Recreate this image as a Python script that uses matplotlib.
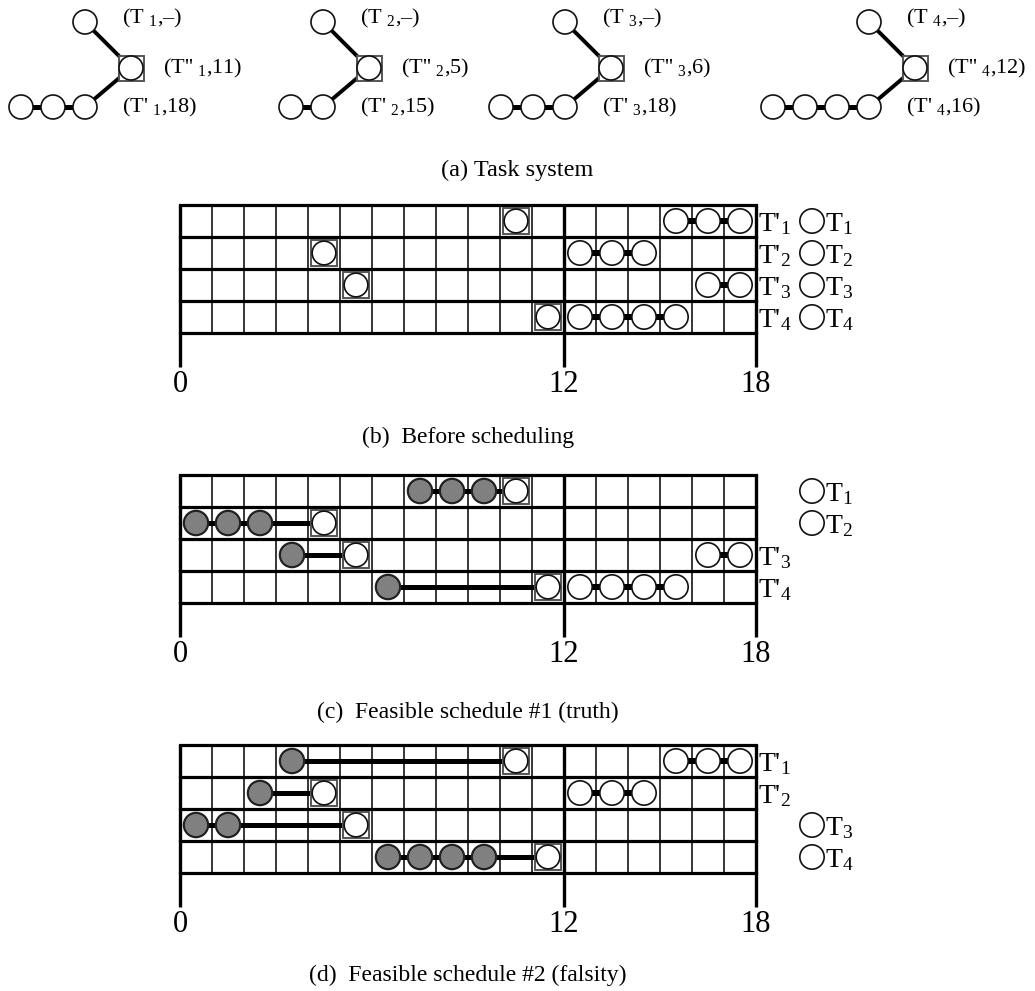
import numpy as np
import matplotlib.pyplot as plt
from matplotlib.patches import Circle, Rectangle

plt.rcParams['font.family'] = ['Liberation Serif', 'DejaVu Serif']
plt.rcParams['mathtext.fontset'] = 'custom'
plt.rcParams['mathtext.rm'] = 'Liberation Serif'
plt.rcParams['mathtext.it'] = 'Liberation Serif'
plt.rcParams['mathtext.bf'] = 'Liberation Serif'
plt.rcParams['mathtext.default'] = 'regular'

# task system (a): length of each T' chain and the two deadlines
task_ids = [1, 2, 3, 4]
chain_len = [3, 2, 3, 4]
deadline_mid = [11, 5, 6, 12]     # T''
deadline_tail = [18, 15, 18, 16]  # T'

# time axis
n_slots = 18
time_ticks = [0, 12, 18]

# (b) before scheduling: slot of the T'' box and slots of the T' chain per row
b_box = [10, 4, 5, 11]
b_gray = [[], [], [], []]
b_tail = [[15, 16, 17], [12, 13, 14], [16, 17], [12, 13, 14, 15]]
b_show_tail_label = [True, True, True, True]
b_show_task_label = [True, True, True, True]

# (c) feasible schedule #1 (truth)
c_box = [10, 4, 5, 11]
c_gray = [[7, 8, 9], [0, 1, 2], [3], [6]]
c_tail = [[], [], [16, 17], [12, 13, 14, 15]]
c_show_tail_label = [False, False, True, True]
c_show_task_label = [True, True, False, False]

# (d) feasible schedule #2 (falsity)
d_box = [10, 4, 5, 11]
d_gray = [[3], [2], [0, 1], [6, 7, 8, 9]]
d_tail = [[15, 16, 17], [12, 13, 14], [], []]
d_show_tail_label = [True, True, False, False]
d_show_task_label = [False, False, True, True]

captions = ['(a) Task system', '(b)  Before scheduling',
            '(c)  Feasible schedule #1 (truth)', '(d)  Feasible schedule #2 (falsity)']

W, H = 1035, 991
CELL = 32
GX = 180
fig = plt.figure(figsize=(W / 100, H / 100), dpi=100)

EDGE = '#111111'
BOXEDGE = '#555555'
GRAY = '#808080'


def node(ax, x, y, r, box=None, fill='white', lw=1.2):
    if box is not None:
        ax.add_patch(Rectangle((x - box / 2, y - box / 2), box, box, fc='white',
                               ec=BOXEDGE, lw=1.4, zorder=4, clip_on=False))
    ax.add_patch(Circle((x, y), r, fc=fill, ec=EDGE if fill == 'white' else '#222222',
                        lw=lw, zorder=5, clip_on=False))


def link(ax, x0, x1, y, h):
    # small black bridge between two neighbouring nodes
    ax.add_patch(Rectangle((x0, y - h / 2), x1 - x0, h, fc='black', ec='none',
                           zorder=3, clip_on=False))


# ---------------- (a) task system ----------------
axa = fig.add_axes([0, 1 - 190 / H, 1, 190 / H])
axa.set_xlim(0, W)
axa.set_ylim(190, 0)
axa.axis('off')

box_x = [131, 369, 611, 915]
top_y, mid_y, bot_y = 22, 68, 107
R = 12
for i, tid in enumerate(task_ids):
    sx = box_x[i]
    tx = sx - 46
    axa.plot([tx, sx], [top_y, mid_y], color='black', lw=2.8, zorder=2)
    axa.plot([sx, tx], [mid_y, bot_y], color='black', lw=2.8, zorder=2)
    node(axa, tx, top_y, R)
    node(axa, sx, mid_y, R, box=25)
    xs = [tx - k * CELL for k in range(chain_len[i])][::-1]
    for x in xs:
        node(axa, x, bot_y, R)
    for a, b in zip(xs[:-1], xs[1:]):
        link(axa, a + R - 1, b - R + 1, bot_y, 5)
    axa.text(sx - 9, top_y - 4, "(T $_{%d}$,–)" % tid, fontsize=16,
             ha='left', va='center')
    axa.text(sx + 32, mid_y, "(T'' $_{%d}$,%d)" % (tid, deadline_mid[i]),
             fontsize=16, ha='left', va='center')
    axa.text(sx - 9, bot_y, "(T' $_{%d}$,%d)" % (tid, deadline_tail[i]),
             fontsize=16, ha='left', va='center')
axa.text(W / 2, 170, captions[0], fontsize=17.5, ha='center', va='center')


# ---------------- schedule grids ----------------
def schedule(top, boxes, grays, tails, show_tail, show_task, caption, cap_y):
    n_rows = len(boxes)
    ax = fig.add_axes([GX / W, 1 - (top + n_rows * CELL) / H,
                       n_slots * CELL / W, n_rows * CELL / H])
    ax.set_xlim(0, n_slots)
    ax.set_ylim(n_rows, 0)
    ax.axis('off')

    tick_len = 34 / CELL
    for t in range(n_slots + 1):
        if t in time_ticks:
            ax.plot([t, t], [0, n_rows + tick_len], color='black', lw=2.4,
                    clip_on=False, zorder=1, solid_capstyle='butt')
        else:
            ax.plot([t, t], [0, n_rows], color='black', lw=1.1,
                    clip_on=False, zorder=1, solid_capstyle='butt')
    for r in range(n_rows + 1):
        ax.plot([0, n_slots], [r, r], color='black', lw=2.3, clip_on=False,
                zorder=1, solid_capstyle='projecting')
    for t in time_ticks:
        ax.text(t, n_rows + 52 / CELL, str(t), fontsize=22, ha='center', va='center')

    rr = 0.38
    for r in range(n_rows):
        y = r + 0.5
        bx = boxes[r] + 0.5
        g = grays[r]
        if g:
            ax.plot([g[0] + 0.5, bx], [y, y], color='black', lw=3.6,
                    zorder=3, solid_capstyle='butt')
            for s in g:
                node(ax, s + 0.5, y, rr, fill=GRAY, lw=1.6)
        node(ax, bx, y, 0.37, box=0.8)
        tl = tails[r]
        for s in tl:
            node(ax, s + 0.5, y, rr)
        for a, b in zip(tl[:-1], tl[1:]):
            link(ax, a + 0.5 + rr - 0.03, b + 0.5 - rr + 0.03, y, 0.2)
        if show_tail[r]:
            ax.text(n_slots + 0.06, y + 0.1, "T'$_{%d}$" % (r + 1),
                    fontsize=20, ha='left', va='center', clip_on=False)
        if show_task[r]:
            ax.add_patch(Circle((19.75, y), rr, fc='white', ec=EDGE, lw=1.2,
                                clip_on=False))
            ax.text(20.15, y + 0.1, "T$_{%d}$" % (r + 1),
                    fontsize=20, ha='left', va='center', clip_on=False)
    ax.text(n_slots / 2, cap_y / CELL, caption, fontsize=17, ha='center', va='center')


schedule(205, b_box, b_gray, b_tail, b_show_tail_label, b_show_task_label,
         captions[1], 232)
schedule(475, c_box, c_gray, c_tail, c_show_tail_label, c_show_task_label,
         captions[2], 237)
schedule(745, d_box, d_gray, d_tail, d_show_tail_label, d_show_task_label,
         captions[3], 230)

fig.savefig('out.png', dpi=100)
